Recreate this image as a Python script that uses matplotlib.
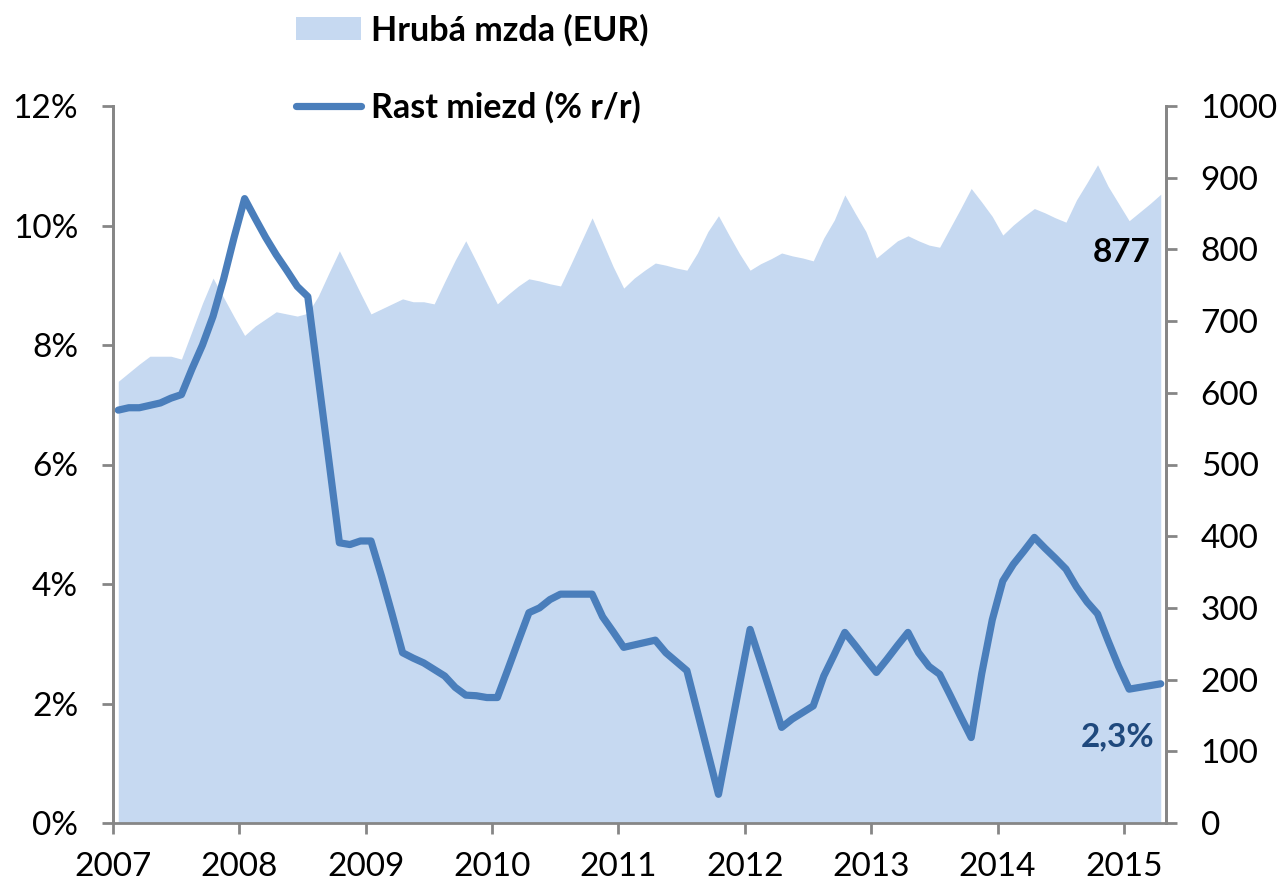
import numpy as np
import matplotlib
matplotlib.use("Agg")
import matplotlib.pyplot as plt
import matplotlib.transforms as mtransforms
from matplotlib.patches import Patch
from matplotlib.lines import Line2D
from matplotlib.ticker import FuncFormatter

plt.rcParams['font.family'] = ['Lato', 'DejaVu Sans']

# monthly data, Jan 2007 - Apr 2015
start_year = 2007
years = list(range(2007, 2016))

# gross wage (EUR), right axis
wage = [616, 628, 640, 651, 651, 651, 647, 686, 725, 760, 733, 706,
        680, 693, 703, 713, 710, 707, 711, 735, 767, 798, 769, 739,
        710, 717, 724, 731, 727, 727, 724, 755, 785, 812, 783, 753,
        724, 737, 749, 759, 756, 752, 749, 780, 812, 844, 810, 776,
        746, 760, 771, 781, 778, 774, 771, 795, 825, 847, 820, 794,
        771, 780, 787, 795, 791, 788, 784, 816, 841, 876, 850, 825,
        788, 800, 812, 819, 812, 806, 803, 830, 857, 885, 866, 846,
        820, 834, 846, 857, 851, 844, 838, 869, 893, 918, 888, 864,
        840, 852, 864, 877]

# wage growth (% y/y), left axis
growth = [6.91, 6.95, 6.95, 6.99, 7.03, 7.11, 7.17, 7.60, 8.00, 8.48, 9.10, 9.80,
          10.45, 10.12, 9.80, 9.51, 9.25, 8.98, 8.81, 7.44, 6.07, 4.69, 4.66, 4.72,
          4.72, 4.13, 3.50, 2.85, 2.76, 2.68, 2.57, 2.46, 2.27, 2.14, 2.13, 2.10,
          2.10, 2.57, 3.05, 3.52, 3.60, 3.74, 3.83, 3.83, 3.83, 3.83, 3.45, 3.20,
          2.94, 2.98, 3.02, 3.06, 2.85, 2.70, 2.55, 1.86, 1.17, 0.48, 1.40, 2.32,
          3.24, 2.70, 2.15, 1.60, 1.74, 1.85, 1.96, 2.46, 2.82, 3.19, 2.97, 2.74,
          2.52, 2.74, 2.97, 3.19, 2.85, 2.62, 2.49, 2.14, 1.78, 1.43, 2.50, 3.40,
          4.05, 4.33, 4.55, 4.78, 4.60, 4.43, 4.25, 3.95, 3.70, 3.50, 3.05, 2.62,
          2.24, 2.27, 2.30, 2.33]

x = start_year + (np.arange(len(wage)) + 0.5) / 12

area_color = '#C6D9F1'
line_color = '#4A7EBB'
spine_color = '#868686'
fs = 24

fig = plt.figure(figsize=(12.82, 8.82), dpi=100)
ax = fig.add_axes([113/1282, 1 - 823/882, (1166 - 113)/1282, (823 - 106)/882])
ax2 = ax.twinx()

# area on the right (EUR) axis
ax.fill_between(x, wage, 0, color=area_color, linewidth=0)
ax.set_ylim(0, 1000)
ax.set_yticks(range(0, 1001, 100))
ax.yaxis.tick_right()
ax.set_xlim(start_year, 2015 + 4/12)

# line on the left (%) axis
ax2.plot(x, growth, color=line_color, linewidth=5.2, solid_joinstyle='round',
         solid_capstyle='round')
ax2.set_ylim(0, 12)
ax2.set_yticks(range(0, 13, 2))
ax2.yaxis.tick_left()
ax2.yaxis.set_major_formatter(FuncFormatter(lambda v, p: f"{v:.0f}%"))

ax.set_xticks(years)
ax.set_xticklabels([str(y) for y in years])
offset = mtransforms.ScaledTranslation(7/100, 0, fig.dpi_scale_trans)
for lbl in ax.get_xticklabels():
    lbl.set_transform(lbl.get_transform() + offset)

for a in (ax, ax2):
    a.spines['top'].set_visible(False)
    for s in ('left', 'right', 'bottom'):
        a.spines[s].set_color(spine_color)
        a.spines[s].set_linewidth(2)
    a.tick_params(axis='both', which='both', length=8, width=2, color=spine_color,
                  labelsize=fs, direction='out')
ax.tick_params(axis='y', pad=17)
ax2.tick_params(axis='y', pad=17)
ax.tick_params(axis='x', pad=13)
ax2.spines['bottom'].set_visible(False)

# end-of-series labels
ax.annotate(f"{wage[-1]}", xy=(x[-1], wage[-1]), xytext=(-10, -58),
            textcoords='offset pixels', ha='right', va='center',
            fontsize=fs, fontweight='bold', color='black')
ax2.annotate(f"{growth[-1]:.1f}%".replace('.', ','), xy=(x[-1], growth[-1]),
             xytext=(-6, -53), textcoords='offset pixels', ha='right', va='center',
             fontsize=fs, fontweight='bold', color='#1F497D')

handles = [Patch(facecolor=area_color, edgecolor='none', label='Hrubá mzda (EUR)'),
           Line2D([0], [0], color=line_color, linewidth=5.2, solid_capstyle='round',
                  label='Rast miezd (% r/r)')]
fig.legend(handles=handles, loc='upper left', bbox_to_anchor=(296/1282, 1 - 14/882),
           frameon=False, prop={'size': 24.5, 'weight': 'bold'},
           handlelength=1.9, handleheight=0.66, handletextpad=0.3,
           labelspacing=1.3, borderpad=0, borderaxespad=0)

fig.savefig('out.png', dpi=100)
